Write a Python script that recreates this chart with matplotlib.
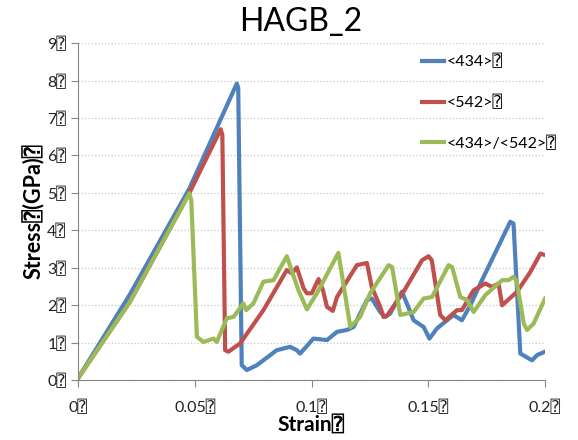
import numpy as np
import matplotlib.pyplot as plt

plt.rcParams['font.family'] = ['Lato', 'DejaVu Sans', 'DejaVu Sans Mono']

Q = '\u2370'  # the box glyph shown after every label

# strain / stress [GPa]
strain_434 = [0, 0.0223, 0.0477, 0.068, 0.0686, 0.0701, 0.0723, 0.0766, 0.0851, 0.0908,
              0.0937, 0.0951, 0.1008, 0.1066, 0.1109, 0.1151, 0.118, 0.1237, 0.1258,
              0.1294, 0.1316, 0.1337, 0.1387, 0.1408, 0.1437, 0.148, 0.1505, 0.1537,
              0.1608, 0.1644, 0.168, 0.1723, 0.1851, 0.1865, 0.1894, 0.1944, 0.1966, 0.2]
stress_434 = [0.05, 2.3, 5.12, 7.92, 7.8, 0.40, 0.27, 0.40, 0.80, 0.89,
              0.80, 0.71, 1.11, 1.07, 1.29, 1.34, 1.42, 2.14, 2.18,
              1.82, 1.69, 1.78, 2.36, 2.05, 1.60, 1.42, 1.11, 1.38,
              1.74, 1.60, 2.00, 2.58, 4.23, 4.18, 0.71, 0.53, 0.67, 0.76]

strain_542 = [0, 0.0223, 0.0477, 0.0611, 0.0618, 0.063, 0.0644, 0.0694, 0.0794, 0.0894,
              0.0916, 0.0937, 0.0966, 0.098, 0.1001, 0.103, 0.1049, 0.1066, 0.1091,
              0.1109, 0.1194, 0.1237, 0.1258, 0.1294, 0.1308, 0.1323, 0.1394, 0.1473,
              0.1501, 0.1515, 0.1551, 0.1573, 0.1623, 0.1644, 0.1694, 0.1744, 0.1773,
              0.1801, 0.1816, 0.188, 0.1937, 0.198, 0.2]
stress_542 = [0.05, 2.1, 5.0, 6.70, 6.55, 0.80, 0.76, 0.98, 1.87, 2.94,
              2.85, 3.01, 2.45, 2.32, 2.32, 2.70, 2.40, 1.96, 1.85,
              2.22, 3.07, 3.13, 2.49, 1.96, 1.69, 1.72, 2.36, 3.20,
              3.31, 3.20, 1.74, 1.60, 1.87, 1.87, 2.40, 2.58, 2.49,
              2.58, 2.00, 2.36, 2.89, 3.38, 3.34]

strain_mix = [0, 0.0223, 0.0477, 0.0485, 0.0509, 0.0537, 0.058, 0.0594, 0.0637, 0.0666,
              0.0708, 0.072, 0.0751, 0.0794, 0.0837, 0.0894, 0.0944, 0.098, 0.1023,
              0.1115, 0.1166, 0.1208, 0.1251, 0.133, 0.1345, 0.138, 0.1437, 0.148,
              0.1516, 0.1587, 0.1602, 0.1637, 0.1666, 0.1694, 0.1744, 0.1816, 0.1844,
              0.1865, 0.1878, 0.1909, 0.1923, 0.1951, 0.2]
stress_mix = [0.05, 2.1, 4.99, 4.8, 1.16, 1.02, 1.11, 1.02, 1.65, 1.69,
              2.05, 1.87, 2.05, 2.63, 2.67, 3.31, 2.40, 1.89, 2.32,
              3.40, 1.42, 1.69, 2.32, 3.07, 3.02, 1.74, 1.82, 2.18,
              2.22, 3.07, 3.02, 2.22, 2.14, 1.82, 2.27, 2.67, 2.67,
              2.76, 2.65, 1.51, 1.34, 1.51, 2.18]

labels = ['<434>' + Q, '<542>' + Q, '<434>/<542>' + Q]
colors = ['#4F81BD', '#C0504D', '#9BBB59']

fig = plt.figure(figsize=(5.78, 4.40), dpi=100)
ax = fig.add_axes([0.135, 0.136, 0.808, 0.766])

ax.plot(strain_434, stress_434, color=colors[0], lw=3, label=labels[0])
ax.plot(strain_542, stress_542, color=colors[1], lw=3, label=labels[1])
ax.plot(strain_mix, stress_mix, color=colors[2], lw=3, label=labels[2])

ax.set_xlim(0, 0.2)
ax.set_ylim(0, 9)
xt = [0, 0.05, 0.1, 0.15, 0.2]
ax.set_xticks(xt)
ax.set_xticklabels(['0' + Q, '0.05' + Q, '0.1' + Q, '0.15' + Q, '0.2' + Q])
ax.set_yticks(range(10))
ax.set_yticklabels([str(i) + Q for i in range(10)])
ax.tick_params(labelsize=11.5, color='#868686', length=5, labelcolor='#222222')
ax.tick_params(axis='x', pad=9)

ax.grid(axis='y', linestyle=':', color='#C8C8C8', lw=0.9)
ax.set_axisbelow(True)
for s in ['top', 'right']:
    ax.spines[s].set_visible(False)
for s in ['left', 'bottom']:
    ax.spines[s].set_color('#868686')

fig.text(0.52, 0.95, 'HAGB_2', fontsize=23, ha='center', va='center')
ax.set_xlabel('Strain' + Q, fontsize=15, fontweight='bold', labelpad=0)
ax.set_ylabel('Stress' + Q + '(GPa)' + Q, fontsize=15.5, fontweight='bold', labelpad=2)

ax.legend(loc='upper right', frameon=False, fontsize=11.5, labelspacing=1.6,
          handlelength=1.4, handletextpad=0.15, bbox_to_anchor=(1.055, 1.01))

fig.savefig('out.png', dpi=100)
